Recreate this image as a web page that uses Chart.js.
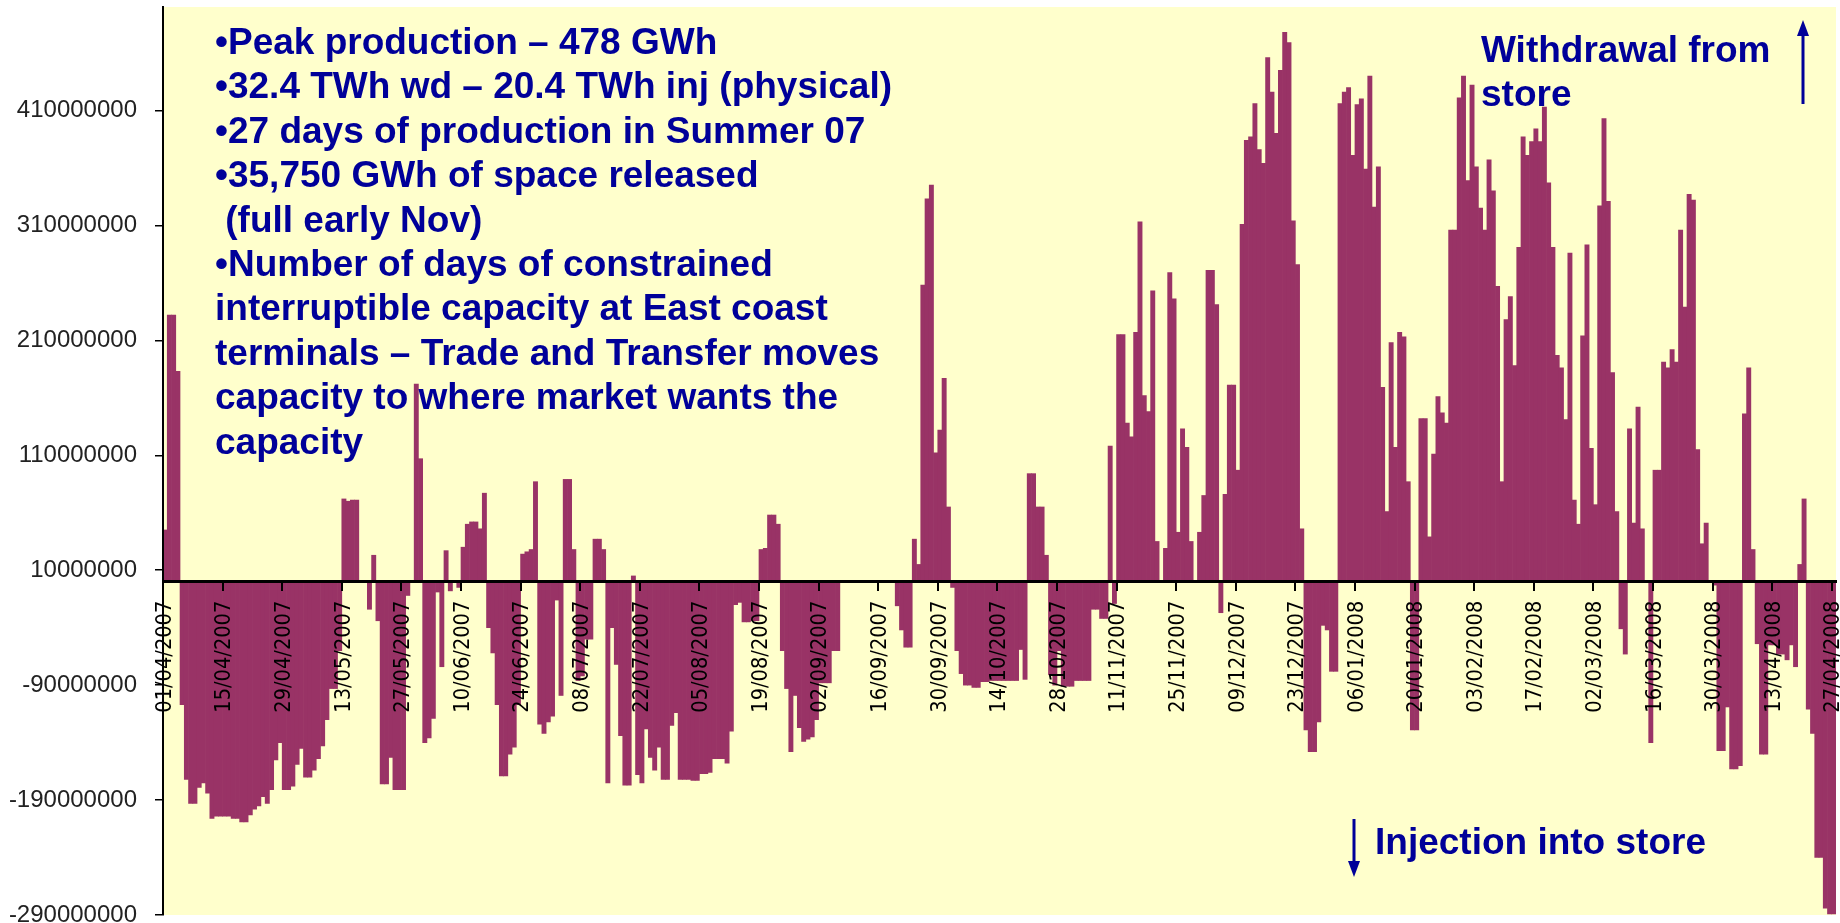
<!DOCTYPE html>
<html lang="en">
<head>
  <meta charset="UTF-8" />
  <title>Storage withdrawal / injection</title>
  <script src="https://cdn.jsdelivr.net/npm/chart.js"></script>
  <style>
    html, body { margin: 0; padding: 0; background: #fff; }
    #wrap { position: relative; width: 1840px; height: 923px; overflow: hidden; }
    canvas { position: absolute; left: 0; top: 0; }
    .note {
      position: absolute;
      font-family: 'Liberation Sans', Arial, sans-serif;
      font-weight: bold;
      font-size: 37px;
      line-height: 44.4px;
      color: #000099;
      white-space: nowrap;
    }
    #bullets { left: 215px; top: 20px; }
    #withdraw { left: 1481px; top: 28px; }
    #inject { left: 1375px; top: 820px; }
    svg { position: absolute; left: 0; top: 0; }
  </style>
</head>
<body>
  <div id="wrap">
    <canvas id="chart" width="1840" height="923"></canvas>

    <!-- text boxes over the chart -->
    <div class="note" id="bullets">
      •Peak production – 478 GWh<br>
      •32.4 TWh wd – 20.4 TWh inj (physical)<br>
      •27 days of production in Summer 07<br>
      •35,750 GWh of space released<br>
      &nbsp;(full early Nov)<br>
      •Number of days of constrained<br>
      interruptible capacity at East coast<br>
      terminals – Trade and Transfer moves<br>
      capacity to where market wants the<br>
      capacity
    </div>
    <div class="note" id="withdraw">Withdrawal from<br>store</div>
    <div class="note" id="inject">Injection into store</div>

    <svg width="1840" height="923">
      <line x1="1803" y1="104" x2="1803" y2="32" stroke="#000099" stroke-width="3" />
      <polygon points="1803,20 1797,36 1809,36" fill="#000099" />
      <line x1="1354" y1="819" x2="1354" y2="864" stroke="#000099" stroke-width="3" />
      <polygon points="1354,877 1348,861 1360,861" fill="#000099" />
    </svg>
  </div>

  <script>
    // daily net flow, million units (positive = withdrawal, negative = injection)
    const apr07 = [45, 232, 232, 183, -107, -172, -193, -193, -179, -175, -184, -206, -204, -204, -204,
      -204, -206, -206, -209, -209, -203, -198, -195, -187, -193, -181, -155, -140, -181, -181];
    const may07 = [-178, -159, -145, -170, -170, -164, -154, -143, -120, -93, -93, -60, 72, 70, 71, 71,
      0, 0, -24, 23, -34, -176, -176, -153, -181, -181, -181, -12, 0, 172, 107];
    const jun07 = [-140, -136, -119, -9, -74, 27, -8, 0, -5, 30, 50, 52, 52, 46, 77, -40, -62, -107,
      -169, -169, -150, -144, -107, 24, 26, 28, 87, -124, -132, -122];
    const jul07 = [-117, -16, -99, 89, 89, 28, -86, -82, -50, -50, 37, 37, 28, -175, -40, -72, -134,
      -177, -177, 5, -168, -175, -128, -153, -164, -144, -172, -172, -125, -114, -172];
    const aug07 = [-172, -172, -173, -173, -167, -167, -166, -154, -154, -154, -158, -130, -20, -18,
      -35, -35, -34, -34, 28, 29, 58, 58, 50, -60, -93, -148, -99, -127, -139, -137, -135];
    const sep07 = [-120, -88, -88, -88, -60, -60, 0, 0, 0, 0, 0, 0, 0, 0, 0, 0, 0, 0, 0,
      -21, -42, -57, -57, 37, 15, 258, 333, 345, 112, 132];
    const oct07 = [177, 65, -5, -60, -80, -90, -90, -92, -92, -87, -87, -86, -86, -86, -86, -86, -86,
      -86, -59, -85, 94, 94, 65, 65, 23, -81, -90, -60, -91, -91, -91];
    const nov07 = [-86, -86, -86, -86, -24, -24, -32, -32, 118, -19, 215, 215, 138, 126, 217, 313,
      162, 148, 253, 35, 0, 29, 269, 246, 43, 133, 117, 35, 0, 43];
    const dec07 = [75, 271, 271, 241, -27, 76, 171, 171, 97, 311, 384, 387, 416, 376, 364, 456, 426,
      390, 445, 478, 469, 314, 276, 46, -129, -148, -148, -122, -38, -42, -78];
    const jan08 = [-78, 416, 426, 430, 371, 415, 420, 359, 440, 326, 361, 169, 61, 208, 117, 217, 213,
      87, -129, -129, 142, 142, 39, 111, 161, 147, 138, 306, 306, 421, 440];
    const feb08 = [349, 432, 361, 325, 306, 367, 340, 257, 87, 228, 248, 188, 291, 387, 371, 383, 394,
      383, 413, 347, 291, 197, 186, 141, 286, 71, 50, 214, 293];
    const mar08 = [116, 67, 327, 403, 331, 182, 61, -41, -63, 133, 51, 152, 46, 0, -140, 97, 97, 191,
      186, 202, 191, 306, 239, 337, 332, 115, 33, 51, 0, -3, -147];
    const apr08 = [-147, -109, -163, -163, -160, 146, 186, 28, -54, -150, -150, -55, -55, -63, -63,
      -68, -55, -74, 15, 72, -111, -132, -240, -240, -284, -289, -289];

    const flowM = [].concat(apr07, may07, jun07, jul07, aug07, sep07, oct07, nov07, dec07,
      jan08, feb08, mar08, apr08);

    const startDate = [2007, 3, 1]; // 01/04/2007
    const tickLabels = ['01/04/2007', '15/04/2007', '29/04/2007', '13/05/2007', '27/05/2007',
      '10/06/2007', '24/06/2007', '08/07/2007', '22/07/2007', '05/08/2007', '19/08/2007',
      '02/09/2007', '16/09/2007', '30/09/2007', '14/10/2007', '28/10/2007', '11/11/2007',
      '25/11/2007', '09/12/2007', '23/12/2007', '06/01/2008', '20/01/2008', '03/02/2008',
      '17/02/2008', '02/03/2008', '16/03/2008', '30/03/2008', '13/04/2008', '27/04/2008'];
    const yTicks = [-290000000, -190000000, -90000000, 10000000, 110000000, 210000000, 310000000, 410000000];

    const pad = n => String(n).padStart(2, '0');
    const days = flowM.map((_, i) => {
      const d = new Date(Date.UTC(startDate[0], startDate[1], startDate[2] + i));
      return pad(d.getUTCDate()) + '/' + pad(d.getUTCMonth() + 1) + '/' + d.getUTCFullYear();
    });
    const tickSet = new Set(tickLabels);

    // narrow date labels: pick the size that gives the reference label length
    const narrowFamily = "'Liberation Sans Narrow', 'Arial Narrow', 'DejaVu Sans Condensed', sans-serif";
    const mctx = document.createElement('canvas').getContext('2d');
    mctx.font = '100px ' + narrowFamily;
    const xFontSize = Math.round(112 * 100 / mctx.measureText('15/04/2007').width * 10) / 10;

    const plotBg = {
      id: 'plotBg',
      beforeDraw(chart) {
        const { ctx, chartArea: a } = chart;
        ctx.save();
        ctx.fillStyle = '#FFFFCC';
        ctx.fillRect(a.left, a.top, a.right - a.left, a.bottom - a.top);
        ctx.restore();
      }
    };

    new Chart(document.getElementById('chart').getContext('2d'), {
      type: 'bar',
      data: {
        labels: days,
        datasets: [{
          data: flowM.map(v => v * 1e6),
          backgroundColor: '#993366',
          borderWidth: 0,
          barPercentage: 1,
          categoryPercentage: 1
        }]
      },
      options: {
        responsive: false,
        animation: false,
        layout: { padding: { top: 7, right: 4, bottom: 8, left: 0 } },
        plugins: { legend: { display: false }, tooltip: { enabled: false } },
        scales: {
          x: {
            position: { y: 0 },
            offset: true,
            grid: {
              z: 1,
              offset: true,
              drawOnChartArea: false,
              tickLength: 8,
              lineWidth: 2,
              color: c => (c.index % 14 === 0 ? '#000' : 'rgba(0,0,0,0)')
            },
            border: { z: 1, color: '#000', width: 3 },
            ticks: {
              z: 1,
              autoSkip: false,
              minRotation: 90,
              maxRotation: 90,
              padding: 11,
              color: '#000',
              font: { family: narrowFamily, size: xFontSize },
              callback: (v, i) => (tickSet.has(days[i]) ? days[i] : '')
            },
            afterFit: s => { s.paddingLeft = 0; s.paddingRight = 0; }
          },
          y: {
            min: -290000000,
            max: 500000000,
            afterBuildTicks: s => { s.ticks = yTicks.map(v => ({ value: v })); },
            afterFit: s => { s.width = 163; s.paddingTop = 0; s.paddingBottom = 0; },
            grid: { z: 1, drawOnChartArea: false, tickLength: 8, color: '#000', lineWidth: 1.5 },
            border: { z: 1, color: '#000', width: 2 },
            ticks: {
              z: 1,
              padding: 18,
              color: '#222',
              font: { family: "'Liberation Sans', Arial, sans-serif", size: 24 },
              callback: v => String(v)
            }
          }
        }
      },
      plugins: [plotBg]
    });
  </script>
</body>
</html>
